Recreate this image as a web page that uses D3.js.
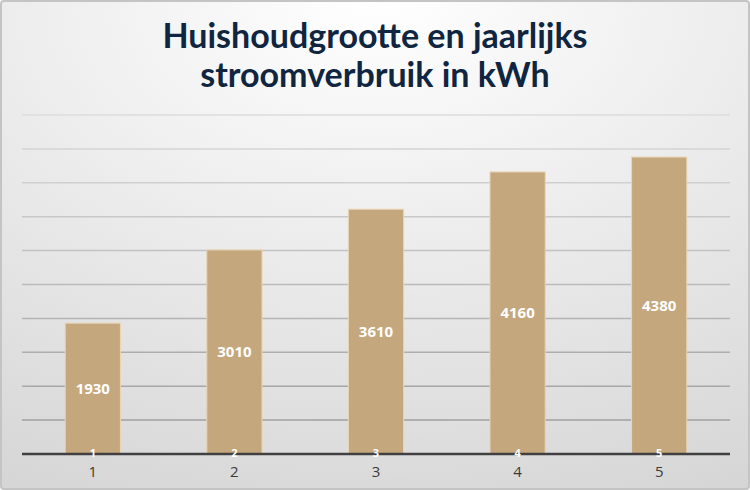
<!DOCTYPE html>
<html>
<head>
<meta charset="utf-8">
<script src="https://cdn.jsdelivr.net/npm/d3@7"></script>
<style>
  html, body { margin: 0; padding: 0; background: #fff; }
  svg { display: block; }
</style>
</head>
<body>
<div id="chart"></div>
<script>
const titleLines = ['Huishoudgrootte en jaarlijks', 'stroomverbruik in kWh'];
const categories = ['1', '2', '3', '4', '5'];
const values = [1930, 3010, 3610, 4160, 4380];
const yMax = 5000;

const width = 750;
const height = 490;
const margin = { top: 115, right: 20, bottom: 36, left: 22 };

const svg = d3.select('#chart')
  .append('svg')
  .attr('width', width)
  .attr('height', height);

// background gradient (light centre top, greyer at the bottom)
const defs = svg.append('defs');
const grad = defs.append('radialGradient')
  .attr('id', 'bg')
  .attr('cx', '50%').attr('cy', '0%').attr('r', '110%');
grad.append('stop').attr('offset', '0%').attr('stop-color', '#ffffff');
grad.append('stop').attr('offset', '100%').attr('stop-color', '#d6d6d6');

svg.append('rect')
  .attr('x', 1).attr('y', 1)
  .attr('width', width - 2).attr('height', height - 2)
  .attr('rx', 3)
  .attr('fill', 'url(#bg)')
  .attr('stroke', '#c4c4c4')
  .attr('stroke-width', 2);

// title
svg.append('g')
  .selectAll('text')
  .data(titleLines)
  .join('text')
  .attr('x', width / 2)
  .attr('y', (d, i) => 48 + i * 39)
  .attr('text-anchor', 'middle')
  .attr('font-family', 'Lato, "Open Sans", sans-serif')
  .attr('font-weight', 'bold')
  .attr('font-size', 34)
  .attr('fill', '#0f2540')
  .text(d => d);

const xScale = d3.scaleBand()
  .domain(categories)
  .range([margin.left, width - margin.right])
  .paddingInner(0.61)
  .paddingOuter(0.305);

const yScale = d3.scaleLinear()
  .domain([0, yMax])
  .range([height - margin.bottom, margin.top]);

// gridlines, darker towards the bottom
const gridColor = d3.scaleLinear()
  .domain([margin.top, height - margin.bottom])
  .range(['#dcdcdc', '#9a9a9a']);

svg.append('g')
  .attr('class', 'gridlines')
  .selectAll('line')
  .data(yScale.ticks(10).filter(d => d > 0))
  .join('line')
  .attr('x1', margin.left)
  .attr('x2', width - margin.right)
  .attr('y1', d => yScale(d))
  .attr('y2', d => yScale(d))
  .attr('stroke', d => gridColor(yScale(d)))
  .attr('stroke-width', 1.5);

// bars
svg.append('g')
  .selectAll('rect')
  .data(values)
  .join('rect')
  .attr('x', (d, i) => xScale(categories[i]))
  .attr('y', d => yScale(d))
  .attr('width', xScale.bandwidth())
  .attr('height', d => yScale(0) - yScale(d))
  .attr('fill', '#c5a77d')
  .attr('stroke', '#e8d6b6')
  .attr('stroke-width', 1);

// value labels
svg.append('g')
  .selectAll('text')
  .data(values)
  .join('text')
  .attr('x', (d, i) => xScale(categories[i]) + xScale.bandwidth() / 2)
  .attr('y', d => (yScale(d) + yScale(0)) / 2)
  .attr('dy', '0.35em')
  .attr('text-anchor', 'middle')
  .attr('font-family', '"Open Sans", sans-serif')
  .attr('font-weight', 'bold')
  .attr('font-size', 15)
  .attr('fill', '#ffffff')
  .text(d => d);

// x axis
const xAxis = svg.append('g')
  .attr('transform', `translate(0, ${yScale(0)})`)
  .call(d3.axisBottom(xScale).tickSize(0).tickPadding(12));
xAxis.select('.domain')
  .attr('stroke', '#404040')
  .attr('stroke-width', 2.5)
  .attr('d', `M${margin.left},0H${width - margin.right}`);
xAxis.selectAll('text')
  .attr('font-family', '"Open Sans", sans-serif')
  .attr('font-size', 15)
  .attr('fill', '#3a3a3a');

// white category labels sitting on the bar bottoms
svg.append('g')
  .selectAll('text')
  .data(categories)
  .join('text')
  .attr('x', d => xScale(d) + xScale.bandwidth() / 2)
  .attr('y', yScale(0) + 3)
  .attr('text-anchor', 'middle')
  .attr('font-family', '"Open Sans", sans-serif')
  .attr('font-weight', 'bold')
  .attr('font-size', 11)
  .attr('fill', '#ffffff')
  .text(d => d);
</script>
</body>
</html>
